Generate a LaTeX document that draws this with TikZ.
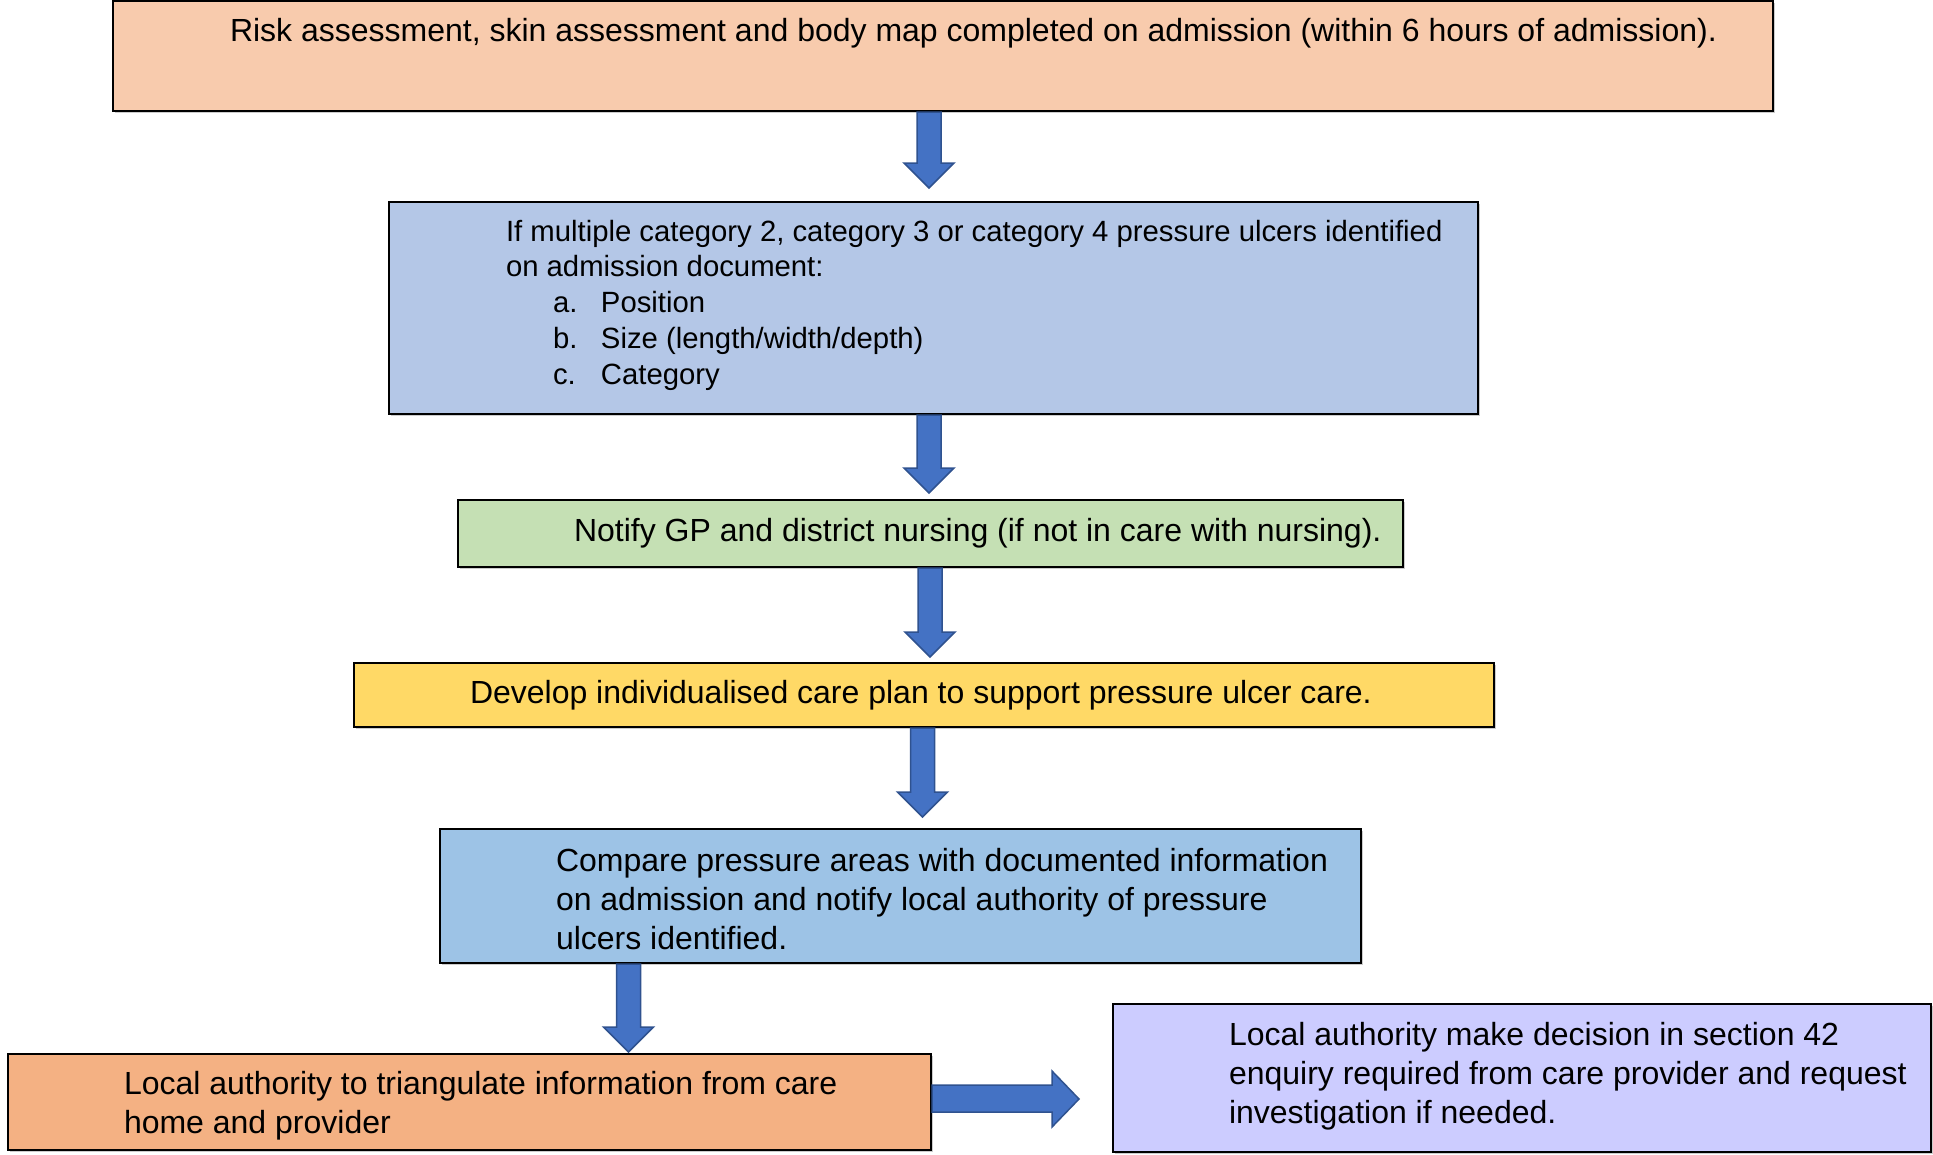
\documentclass[tikz,border=0pt]{standalone}
\usepackage{fontspec}
\setmainfont{Liberation Sans}
\usetikzlibrary{calc,shadows}

\definecolor{fillA}{HTML}{F8CBAD}
\definecolor{fillB}{HTML}{B4C7E7}
\definecolor{fillC}{HTML}{C5E0B4}
\definecolor{fillD}{HTML}{FFD966}
\definecolor{fillE}{HTML}{9DC3E6}
\definecolor{fillF}{HTML}{F4B183}
\definecolor{fillG}{HTML}{CCCCFF}
\definecolor{arrowfill}{HTML}{4472C4}
\definecolor{arrowline}{HTML}{2F528F}

% vertical block arrow from the bottom of #1 towards the top of #2
% #3 = shaft centre x, #4 = gap left between tip and target box
\newcommand\flowdown[4]{%
  \path[blockarrow] let \p1=(#1.south), \p2=(#2.north) in
    (#3pt-12pt,\y1-1pt) -- (#3pt+12pt,\y1-1pt) -- (#3pt+12pt,\y2+#4pt+25pt)
    -- (#3pt+25pt,\y2+#4pt+25pt) -- (#3pt,\y2+#4pt) -- (#3pt-25pt,\y2+#4pt+25pt)
    -- (#3pt-12pt,\y2+#4pt+25pt) -- cycle;}

\begin{document}
\begin{tikzpicture}[x=1pt,y=-1pt,
  box/.style={draw=black, line width=2pt, inner sep=0pt, outer sep=0pt,
    anchor=north west,
    drop shadow={shadow xshift=1.5pt, shadow yshift=-1.5pt, fill=black!40}},
  txt/.style={anchor=base west, inner sep=0pt, outer sep=0pt, text=black},
  blockarrow/.style={fill=arrowfill, draw=arrowline, line width=1.5pt, line join=miter}]
\useasboundingbox (0,0) rectangle (1933,1154);

% boxes
\node[box, fill=fillA, minimum width=1660pt, minimum height=110pt] (b1) at (113,1) {};
\node[box, fill=fillB, minimum width=1089pt, minimum height=212pt] (b2) at (389,202) {};
\node[box, fill=fillC, minimum width=945pt,  minimum height=67pt]  (b3) at (458,500) {};
\node[box, fill=fillD, minimum width=1140pt, minimum height=64pt]  (b4) at (354,663) {};
\node[box, fill=fillE, minimum width=921pt,  minimum height=134pt] (b5) at (440,829) {};
\node[box, fill=fillF, minimum width=923pt,  minimum height=96pt]  (b6) at (8,1054) {};
\node[box, fill=fillG, minimum width=818pt,  minimum height=148pt] (b7) at (1113,1004) {};

% texts
\node[txt] (t1) at (230,41) {\fontsize{32}{39}\selectfont Risk assessment, skin assessment and body map completed on admission (within 6 hours of admission).};
\node[txt] (t2) at (506,241) {\fontsize{29.3}{35.8}\selectfont\parbox[t]{1000pt}{%
  If multiple category 2, category 3 or category 4 pressure ulcers identified\\
  on admission document:\\
  \hspace*{47pt}\makebox[48pt][l]{a.}Position\\
  \hspace*{47pt}\makebox[48pt][l]{b.}Size (length/width/depth)\\
  \hspace*{47pt}\makebox[48pt][l]{c.}Category}};
\node[txt] (t3) at (574,541) {\fontsize{32}{39}\selectfont Notify GP and district nursing (if not in care with nursing).};
\node[txt] (t4) at (470,703) {\fontsize{32}{39}\selectfont Develop individualised care plan to support pressure ulcer care.};
\node[txt] (t5) at (556,871) {\fontsize{32}{39}\selectfont\parbox[t]{900pt}{%
  Compare pressure areas with documented information\\
  on admission and notify local authority of pressure\\
  ulcers identified.}};
\node[txt] (t6) at (124,1094) {\fontsize{32}{39}\selectfont\parbox[t]{800pt}{%
  Local authority to triangulate information from care\\
  home and provider}};
\node[txt] (t7) at (1229,1045) {\fontsize{32}{39}\selectfont\parbox[t]{800pt}{%
  Local authority make decision in section 42\\
  enquiry required from care provider and request\\
  investigation if needed.}};

% connectors
\flowdown{b1}{b2}{929}{14}
\flowdown{b2}{b3}{929}{7}
\flowdown{b3}{b4}{930}{6}
\flowdown{b4}{b5}{922.5}{12}
\flowdown{b5}{b6}{628.5}{2}
\path[blockarrow] let \p1=(b6.east), \p2=(b7.west) in
  (\x1+1pt,-1085pt) -- (\x2-61pt,-1085pt) -- (\x2-61pt,-1071pt)
  -- (\x2-34pt,-1099pt) -- (\x2-61pt,-1127pt) -- (\x2-61pt,-1112pt)
  -- (\x1+1pt,-1112pt) -- cycle;
\end{tikzpicture}
\end{document}
